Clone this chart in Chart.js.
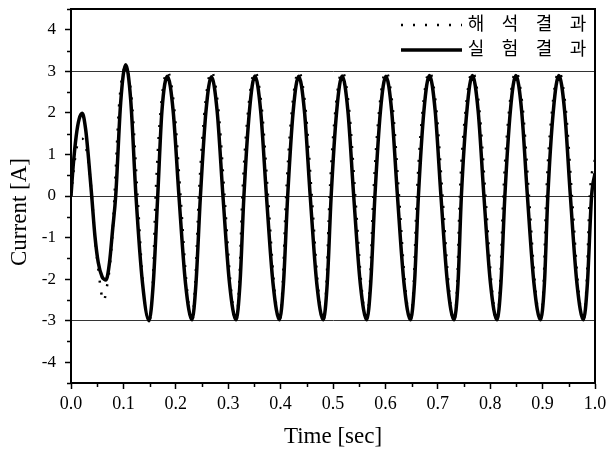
<!DOCTYPE html>
<html>
<head>
<meta charset="utf-8">
<script src="https://cdn.jsdelivr.net/npm/chart.js@4"></script>
<style>
  html, body { margin: 0; padding: 0; background: #fff; }
</style>
</head>
<body>
<canvas id="grafico" width="608" height="454"></canvas>
<script>
// 실험 결과: sample times [sec] and measured current [A]
const timeExp = [
  0, 0.004, 0.010, 0.0155, 0.0215, 0.028, 0.0335, 0.0395, 0.0458, 0.052, 0.0595, 0.063, 0.0668, 0.0735, 0.0795, 0.0853,
  0.0948, 0.1044, 0.114, 0.124, 0.1365, 0.149, 0.157, 0.1655,
  0.1735, 0.184, 0.195, 0.206, 0.2185, 0.231, 0.2385, 0.247,
  0.2575, 0.268, 0.279, 0.290, 0.3025, 0.315, 0.3225, 0.330,
  0.3405, 0.351, 0.362, 0.373, 0.3855, 0.398, 0.4055, 0.4135,
  0.424, 0.4345, 0.4455, 0.4565, 0.469, 0.4815, 0.489, 0.4965,
  0.507, 0.5175, 0.5285, 0.5395, 0.552, 0.5645, 0.572, 0.580,
  0.5905, 0.601, 0.612, 0.623, 0.6355, 0.648, 0.6555, 0.663,
  0.6735, 0.684, 0.695, 0.706, 0.7185, 0.731, 0.7385, 0.745,
  0.7555, 0.766, 0.777, 0.788, 0.8005, 0.813, 0.8205, 0.828,
  0.8385, 0.849, 0.860, 0.871, 0.8835, 0.896, 0.9035, 0.910,
  0.9205, 0.931, 0.942, 0.953, 0.9655, 0.978, 0.9855, 0.9935, 1.0
];
const measured = [
  0, 0.7, 1.45, 1.85, 1.99, 1.6, 0.9, 0, -0.98, -1.6, -1.95, -2.0, -2.02, -1.6, -0.8, 0,
  2.25, 3.16, 2.3, 0, -2.1, -3.0, -2.1, 0,
  2.04, 2.88, 2.04, 0, -2.1, -2.98, -2.1, 0,
  2.03, 2.87, 2.03, 0, -2.1, -2.98, -2.1, 0,
  2.04, 2.89, 2.04, 0, -2.1, -2.98, -2.1, 0,
  2.04, 2.88, 2.04, 0, -2.1, -2.98, -2.1, 0,
  2.04, 2.89, 2.04, 0, -2.1, -2.98, -2.1, 0,
  2.04, 2.88, 2.04, 0, -2.1, -2.98, -2.1, 0,
  2.05, 2.9, 2.05, 0, -2.1, -2.98, -2.1, 0,
  2.05, 2.9, 2.05, 0, -2.1, -2.98, -2.1, 0,
  2.05, 2.9, 2.05, 0, -2.1, -2.98, -2.1, 0,
  2.05, 2.9, 2.05, 0, -2.1, -2.98, -2.1, 0, 0.55
];

// 해석 결과: sample times [sec] and simulated current [A]
const timeSim = [
  0, 0.004, 0.010, 0.0155, 0.0215, 0.028, 0.0335, 0.0395, 0.0458, 0.052, 0.0595, 0.063, 0.0668, 0.0735, 0.0795, 0.083,
  0.0925, 0.1044, 0.116, 0.127, 0.1375, 0.149, 0.156, 0.1615,
  0.1715, 0.184, 0.197, 0.209, 0.2205, 0.231, 0.237, 0.244,
  0.2555, 0.268, 0.281, 0.293, 0.3045, 0.315, 0.321, 0.327,
  0.3385, 0.351, 0.364, 0.376, 0.3875, 0.398, 0.404, 0.4105,
  0.422, 0.4345, 0.4475, 0.4595, 0.471, 0.4815, 0.4875, 0.4935,
  0.505, 0.5175, 0.5305, 0.5425, 0.554, 0.5645, 0.5705, 0.577,
  0.5885, 0.601, 0.614, 0.626, 0.6375, 0.648, 0.654, 0.660,
  0.6715, 0.684, 0.697, 0.709, 0.7205, 0.731, 0.737, 0.742,
  0.7535, 0.766, 0.779, 0.791, 0.8025, 0.813, 0.819, 0.825,
  0.8365, 0.849, 0.862, 0.874, 0.8855, 0.896, 0.902, 0.907,
  0.9185, 0.931, 0.944, 0.956, 0.9675, 0.978, 0.984, 0.990, 1.0
];
const analysis = [
  0, 0.5, 1.1, 1.35, 1.38, 1.2, 0.8, 0.05, -1.0, -1.75, -2.45, -2.52, -2.3, -1.75, -0.85, 0,
  2.3, 3.1, 2.3, 0, -2.15, -3.02, -2.15, 0,
  2.12, 3.0, 2.12, 0, -2.12, -3.02, -2.12, 0,
  2.12, 3.0, 2.12, 0, -2.12, -3.02, -2.12, 0,
  2.12, 3.0, 2.12, 0, -2.12, -3.02, -2.12, 0,
  2.12, 3.0, 2.12, 0, -2.12, -3.02, -2.12, 0,
  2.12, 3.0, 2.12, 0, -2.12, -3.02, -2.12, 0,
  2.12, 3.0, 2.12, 0, -2.12, -3.02, -2.12, 0,
  2.12, 3.0, 2.12, 0, -2.12, -3.02, -2.12, 0,
  2.12, 3.0, 2.12, 0, -2.12, -3.02, -2.12, 0,
  2.12, 3.0, 2.12, 0, -2.12, -3.02, -2.12, 0,
  2.12, 3.0, 2.12, 0, -2.12, -3.02, -2.12, 0, 0.9
];

const seriesNames = ['해석 결과', '실험 결과'];
const xTicks = [0, 0.1, 0.2, 0.3, 0.4, 0.5, 0.6, 0.7, 0.8, 0.9, 1.0];
const xTickLabels = ['0.0', '0.1', '0.2', '0.3', '0.4', '0.5', '0.6', '0.7', '0.8', '0.9', '1.0'];
const yTicks = [-4, -3, -2, -1, 0, 1, 2, 3, 4];
const yTickLabels = ['-4', '-3', '-2', '-1', '0', '1', '2', '3', '4'];
const refLines = [3, 0, -3];

const serif = '"Liberation Serif", "Times New Roman", serif';

// short ticks between the labelled ones, plus the top/right frame
const minorTicks = {
  id: 'minorTicks',
  afterDraw(chart) {
    const { ctx, chartArea: a, scales: { x, y } } = chart;
    ctx.save();
    ctx.strokeStyle = '#000';
    ctx.lineWidth = 1.5;
    ctx.beginPath();
    for (let k = -9; k <= 9; k += 2) {
      const py = Math.round(y.getPixelForValue(k / 2)) + 0.5;
      ctx.moveTo(a.left - 4, py);
      ctx.lineTo(a.left, py);
    }
    for (let k = 1; k < 20; k += 2) {
      const px = Math.round(x.getPixelForValue(k / 20)) + 0.5;
      ctx.moveTo(px, a.bottom);
      ctx.lineTo(px, a.bottom + 4);
    }
    ctx.stroke();
    ctx.lineWidth = 2;
    ctx.beginPath();
    ctx.moveTo(a.left, a.top);
    ctx.lineTo(a.right, a.top);
    ctx.lineTo(a.right, a.bottom);
    ctx.stroke();
    ctx.restore();
  }
};

// vertical axis title, drawn a bit below the middle
const yTitle = {
  id: 'yTitle',
  afterDraw(chart) {
    const ctx = chart.ctx;
    ctx.save();
    ctx.translate(20, 212);
    ctx.rotate(-Math.PI / 2);
    ctx.font = '23px ' + serif;
    ctx.fillStyle = '#000';
    ctx.textAlign = 'center';
    ctx.textBaseline = 'middle';
    ctx.fillText('Current [A]', 0, 0);
    ctx.restore();
  }
};

// legend in the upper right corner of the plot
const legendBox = {
  id: 'legendBox',
  afterDraw(chart) {
    const ctx = chart.ctx;
    ctx.save();
    chart.data.datasets.forEach((ds, i) => {
      const y = 25 + i * 25;
      ctx.strokeStyle = ds.borderColor;
      ctx.lineWidth = ds.borderWidth;
      ctx.setLineDash(ds.borderDash || []);
      ctx.beginPath();
      ctx.moveTo(401, y);
      ctx.lineTo(462, y);
      ctx.stroke();
      ctx.setLineDash([]);
      ctx.fillStyle = '#000';
      ctx.font = '18px "Noto Sans CJK KR"';
      ctx.textAlign = 'center';
      ctx.textBaseline = 'middle';
      [...ds.label.replace(/ /g, '')].forEach((ch, k) => {
        ctx.fillText(ch, 476 + k * 34, y - 2);
      });
    });
    ctx.restore();
  }
};

const grafico = document.querySelector('#grafico');

new Chart(grafico, {
  type: 'line',
  data: {
    datasets: [
      {
        label: seriesNames[0],
        data: timeSim.map((t, i) => ({ x: t, y: analysis[i] })),
        borderColor: '#000',
        borderWidth: 2.5,
        borderDash: [2, 10],
        pointRadius: 0,
        cubicInterpolationMode: 'monotone'
      },
      {
        label: seriesNames[1],
        data: timeExp.map((t, i) => ({ x: t, y: measured[i] })),
        borderColor: '#000',
        borderWidth: 3.5,
        pointRadius: 0,
        cubicInterpolationMode: 'monotone'
      }
    ]
  },
  options: {
    responsive: false,
    animation: false,
    devicePixelRatio: 1,
    layout: { padding: { top: 9, right: 13, left: 0, bottom: 0 } },
    plugins: { legend: { display: false }, tooltip: { enabled: false } },
    scales: {
      x: {
        type: 'linear',
        min: 0,
        max: 1,
        bounds: 'data',
        afterBuildTicks: s => { s.ticks = xTicks.map(v => ({ value: v })); },
        afterFit: s => { s.height = 71; s.paddingLeft = 0; s.paddingRight = 0; },
        border: { color: '#000', width: 2 },
        grid: { drawOnChartArea: false, tickLength: 6, tickColor: '#000', tickWidth: 1.5 },
        ticks: {
          color: '#000',
          padding: 4,
          maxRotation: 0,
          autoSkip: false,
          font: { family: serif, size: 18 },
          callback: (v, i) => xTickLabels[i]
        },
        title: {
          display: true,
          text: 'Time [sec]',
          color: '#000',
          font: { family: serif, size: 23 },
          padding: { top: 0, bottom: 3 }
        }
      },
      y: {
        type: 'linear',
        min: -4.5,
        max: 4.5,
        bounds: 'data',
        afterBuildTicks: s => { s.ticks = yTicks.map(v => ({ value: v })); },
        afterFit: s => { s.width = 71; s.paddingTop = 0; s.paddingBottom = 0; },
        border: { color: '#000', width: 2 },
        grid: {
          tickLength: 6,
          tickColor: '#000',
          tickWidth: 1.5,
          lineWidth: 1,
          color: c => refLines.includes(c.tick.value) ? '#333' : 'rgba(0,0,0,0)'
        },
        ticks: {
          color: '#000',
          padding: 9,
          autoSkip: false,
          font: { family: serif, size: 17 },
          callback: (v, i) => yTickLabels[i]
        }
      }
    }
  },
  plugins: [minorTicks, yTitle, legendBox]
});
</script>
</body>
</html>
